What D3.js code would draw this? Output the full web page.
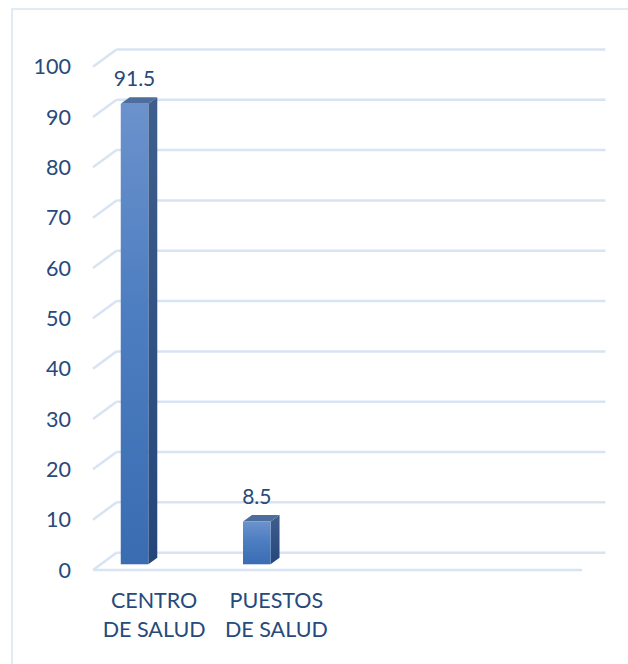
<!DOCTYPE html>
<html>
<head>
<meta charset="utf-8">
<script src="https://cdn.jsdelivr.net/npm/d3@7"></script>
<style>
  html, body { margin: 0; padding: 0; background: #fff; }
  svg { display: block; }
</style>
</head>
<body>
<svg id="chart" width="628" height="664"></svg>
<script>
// Establishment types and their share (%)
const categories = [["CENTRO", "DE SALUD"], ["PUESTOS", "DE SALUD"]];
const values = [91.5, 8.5];
const valueLabels = ["91.5", "8.5"];
const yTicks = [0, 10, 20, 30, 40, 50, 60, 70, 80, 90, 100];
const yTickLabels = ["0", "10", "20", "30", "40", "50", "60", "70", "80", "90", "100"];

const svg = d3.select("#chart");
const W = 628, H = 664;

// Category slots along the floor (the sheet reserves four, two are filled)
const slotCount = 4;
const x = d3.scaleBand().domain(d3.range(slotCount)).range([93, 582]);
// Value scale on the front plane
const y = d3.scaleLinear().domain([0, 100]).range([570, 66.7]);

// Oblique depth offset from front plane to back wall
const depth = { dx: 23.5, dy: -17.3 };
const barDepthFront = 0.33, barDepthBack = 0.71;
const barInset = 20, barWidth = 27.6;

const textColor = "#264a7b";
const gridColor = "#d8e3f3";
const font = "Lato, 'Open Sans', sans-serif";

// Outer frame
svg.append("rect")
  .attr("x", 12).attr("y", 9)
  .attr("width", W + 20).attr("height", H + 20)
  .attr("fill", "none")
  .attr("stroke", "#d9e4f1").attr("stroke-width", 1.5);

const defs = svg.append("defs");
const gFront = defs.append("linearGradient").attr("id", "barFront")
  .attr("x1", 0).attr("y1", 0).attr("x2", 0).attr("y2", 1);
gFront.append("stop").attr("offset", "0%").attr("stop-color", "#6b92cc");
gFront.append("stop").attr("offset", "45%").attr("stop-color", "#4d7ec1");
gFront.append("stop").attr("offset", "100%").attr("stop-color", "#3a6cb2");
const gSide = defs.append("linearGradient").attr("id", "barSide")
  .attr("x1", 0).attr("y1", 0).attr("x2", 0).attr("y2", 1);
gSide.append("stop").attr("offset", "0%").attr("stop-color", "#3e5e8c");
gSide.append("stop").attr("offset", "100%").attr("stop-color", "#26467a");

// Gridlines: back wall line plus the diagonal on the side wall
const x0 = x.range()[0], x1 = x.range()[1];
const grid = svg.append("g").attr("stroke", gridColor).attr("stroke-width", 2.5).attr("fill", "none");
yTicks.forEach(t => {
  const yf = y(t);
  grid.append("line")
    .attr("x1", x0 + depth.dx).attr("y1", yf + depth.dy)
    .attr("x2", x1 + depth.dx).attr("y2", yf + depth.dy);
  grid.append("line")
    .attr("x1", x0).attr("y1", yf)
    .attr("x2", x0 + depth.dx).attr("y2", yf + depth.dy);
});
// Floor front edge
grid.append("line")
  .attr("x1", x0).attr("y1", y(0))
  .attr("x2", x1).attr("y2", y(0));

// Y axis labels
svg.append("g")
  .selectAll("text")
  .data(yTicks)
  .join("text")
  .attr("x", 71)
  .attr("y", d => y(d))
  .attr("dy", "0.36em")
  .attr("text-anchor", "end")
  .attr("font-family", font)
  .attr("font-size", 21.5)
  .attr("fill", textColor)
  .text((d, i) => yTickLabels[i]);

// 3D columns
const bars = svg.append("g");
values.forEach((v, i) => {
  const fx = x(i) + barInset + barDepthFront * depth.dx;
  const fdy = barDepthFront * depth.dy;
  const yTop = y(v) + fdy, yBot = y(0) + fdy;
  const sdx = (barDepthBack - barDepthFront) * depth.dx;
  const sdy = (barDepthBack - barDepthFront) * depth.dy;

  // side face
  bars.append("path")
    .attr("d", `M${fx + barWidth},${yTop} L${fx + barWidth + sdx},${yTop + sdy} L${fx + barWidth + sdx},${yBot + sdy} L${fx + barWidth},${yBot} Z`)
    .attr("fill", "url(#barSide)");
  // top face
  bars.append("path")
    .attr("d", `M${fx},${yTop} L${fx + sdx},${yTop + sdy} L${fx + barWidth + sdx},${yTop + sdy} L${fx + barWidth},${yTop} Z`)
    .attr("fill", "#4d6d9d");
  // front face
  bars.append("rect")
    .attr("x", fx).attr("y", yTop)
    .attr("width", barWidth).attr("height", yBot - yTop)
    .attr("fill", "url(#barFront)");
  // value label
  bars.append("text")
    .attr("x", fx + barWidth / 2)
    .attr("y", yTop + sdy - 11)
    .attr("text-anchor", "middle")
    .attr("font-family", font)
    .attr("font-size", 21)
    .attr("fill", textColor)
    .text(valueLabels[i]);
});

// Category labels
const cats = svg.append("g");
categories.forEach((lines, i) => {
  const t = cats.append("text")
    .attr("x", x(i) + x.bandwidth() / 2)
    .attr("y", 608.3)
    .attr("text-anchor", "middle")
    .attr("font-family", font)
    .attr("font-size", 21.5)
    .attr("fill", textColor);
  lines.forEach((ln, j) => {
    t.append("tspan")
      .attr("x", x(i) + x.bandwidth() / 2)
      .attr("dy", j === 0 ? 0 : 28.4)
      .text(ln);
  });
});
</script>
</body>
</html>
